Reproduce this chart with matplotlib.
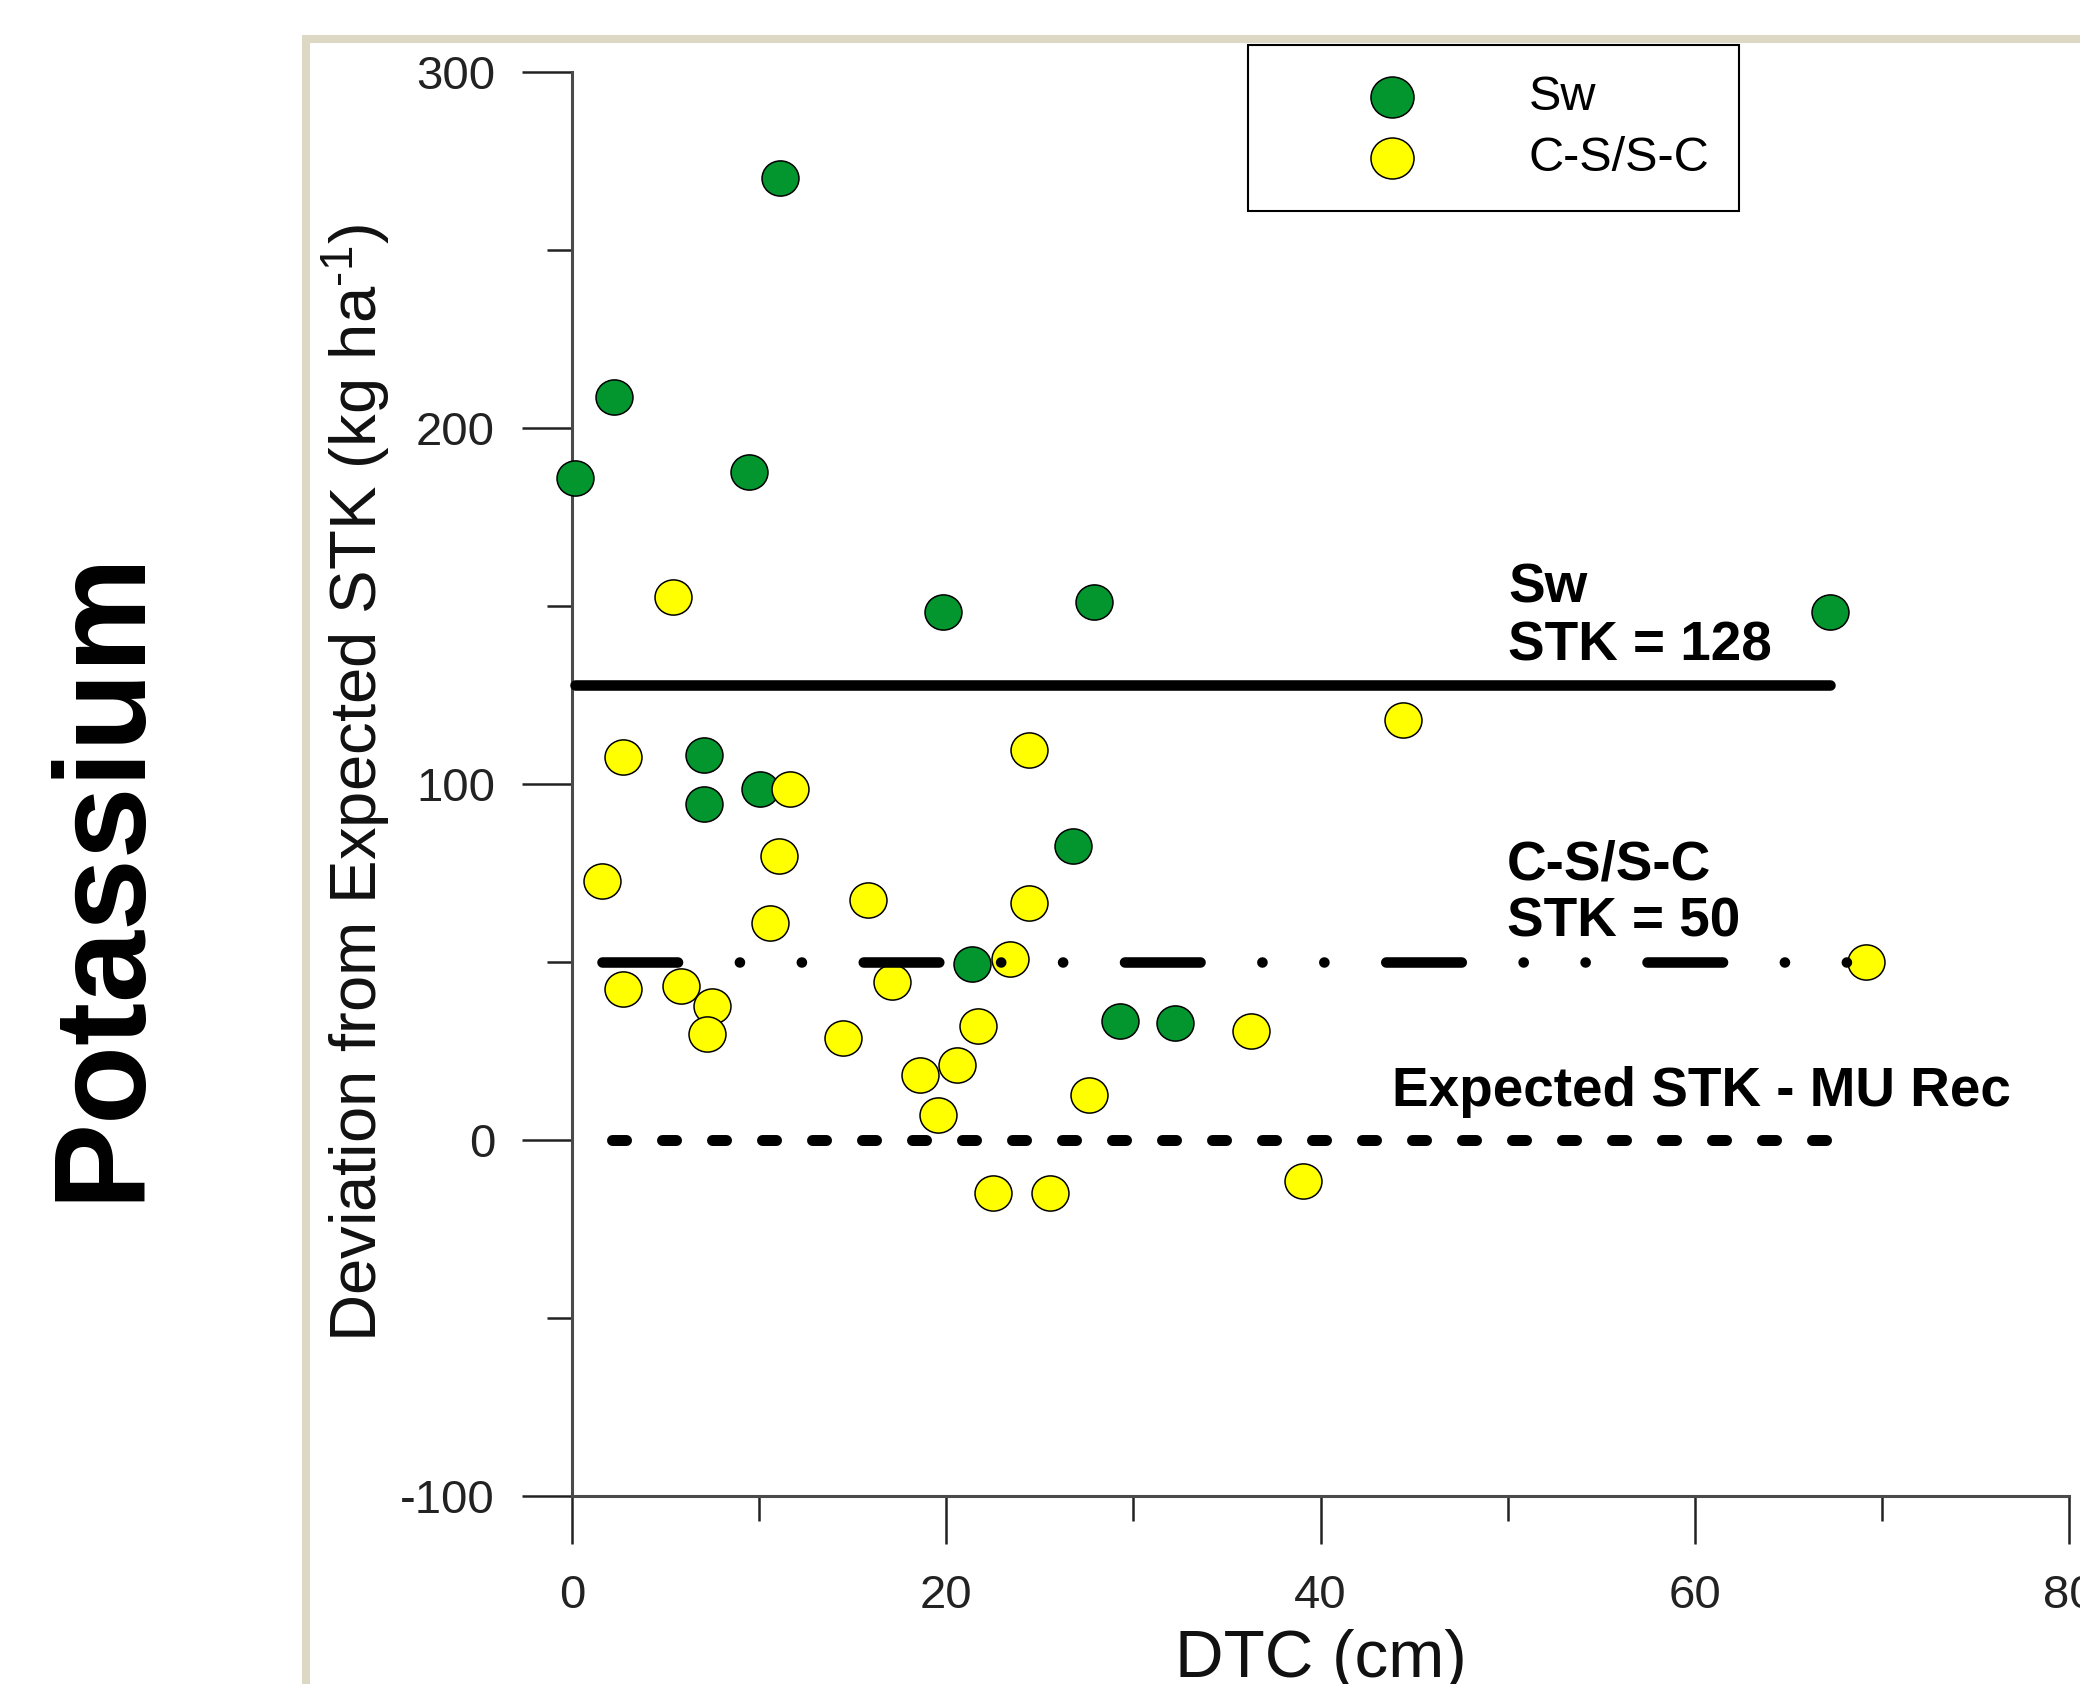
import matplotlib
matplotlib.use('Agg')
import matplotlib.pyplot as plt
from matplotlib.path import Path
from matplotlib.patches import Rectangle

plt.rcParams['font.family'] = ['Liberation Sans', 'DejaVu Sans']
plt.rcParams['axes.unicode_minus'] = False
plt.rcParams['mathtext.fontset'] = 'custom'
plt.rcParams['mathtext.rm'] = 'Liberation Sans'
plt.rcParams['mathtext.default'] = 'regular'
plt.rcParams['lines.scale_dashes'] = False

# Sw (green) points: DTC (cm) vs deviation from expected STK
sw_x = [0.16, 2.24, 11.12, 9.46, 19.84, 27.9, 67.24, 7.06, 7.06, 10.05, 26.8, 21.4, 29.3, 32.2]
sw_y = [186.0, 208.7, 270.2, 187.8, 148.4, 151.1, 148.5, 108.2, 94.5, 98.6, 82.7, 49.4, 33.5, 32.9]

# C-S/S-C (yellow) points
cs_x = [5.41, 2.7, 11.66, 24.4, 44.4, 1.6, 11.07, 10.6, 15.8, 24.4, 2.7, 5.8, 7.5, 7.2,
        17.1, 23.4, 14.5, 21.7, 18.6, 20.56, 19.58, 27.65, 36.3, 22.5, 25.55, 39.05, 69.16]
cs_y = [152.5, 107.6, 98.6, 109.6, 118.0, 72.9, 79.9, 61.1, 67.5, 66.7, 42.4, 43.3, 37.7, 29.8,
        44.6, 50.8, 28.6, 32.1, 18.3, 21.1, 7.1, 12.7, 30.8, -14.9, -14.9, -11.3, 50.2]

# reference levels
sw_stk = 128
cs_stk = 50
exp_level = 0
exp_x = [2.15, 67.3]

labels = ['Sw', 'C-S/S-C']
green = '#03962F'
yellow = '#FFFF00'

# slightly wide ellipse marker (the original is a bit stretched sideways)
circ = Path.unit_circle()
ell = Path(circ.vertices * [1.05, 1.0], circ.codes)

fig = plt.figure(figsize=(20.8, 16.84), dpi=100)
ax = fig.add_axes([572 / 2080, 187.7 / 1684, 1497 / 2080, 1424 / 1684])

ax.scatter(sw_x, sw_y, s=708, marker=ell, facecolor=green, edgecolor='black',
           linewidth=1.1, clip_on=False, zorder=3, label=labels[0])
ax.scatter(cs_x, cs_y, s=708, marker=ell, facecolor=yellow, edgecolor='black',
           linewidth=1.1, clip_on=False, zorder=3, label=labels[1])

ax.plot([min(sw_x), max(sw_x)], [sw_stk, sw_stk], color='black', lw=7.6,
        solid_capstyle='round', clip_on=False, zorder=4)
ax.plot([min(cs_x), max(cs_x)], [cs_stk, cs_stk], color='black', lw=7.6,
        dashes=(54.4, 44.5, 0.1, 44.5, 0.1, 44.5), dash_capstyle='round',
        clip_on=False, zorder=4)
ax.plot(exp_x, [exp_level, exp_level], color='black', lw=7.9,
        dashes=(10.1, 25.9), dash_capstyle='round', clip_on=False, zorder=4)

fs_ann = 39.5
ax.text(50.03, 151.1, 'Sw', fontsize=fs_ann, fontweight='bold', va='baseline')
ax.text(50.03, 134.7, 'STK = 128', fontsize=fs_ann, fontweight='bold', va='baseline')
ax.text(49.95, 73.3, 'C-S/S-C', fontsize=fs_ann, fontweight='bold', va='baseline')
ax.text(49.95, 57.2, 'STK = 50', fontsize=fs_ann, fontweight='bold', va='baseline')
ax.text(43.8, 9.7, 'Expected STK - MU Rec', fontsize=fs_ann, fontweight='bold', va='baseline')

ax.set_xlim(0, 80)
ax.set_ylim(-100, 300)
ax.set_xticks([0, 20, 40, 60, 80])
ax.set_xticks([10, 30, 50, 70], minor=True)
ax.set_yticks([-100, 0, 100, 200, 300])
ax.set_yticks([-50, 50, 150, 250], minor=True)
ax.tick_params(axis='x', which='major', direction='out', length=34.6, width=1.8,
               pad=21, labelsize=34, colors='#222222')
ax.tick_params(axis='x', which='minor', direction='out', length=18, width=1.8, color='#222222')
ax.tick_params(axis='y', which='major', direction='out', length=35.8, width=1.8,
               pad=19.6, labelsize=34, colors='#222222')
ax.tick_params(axis='y', which='minor', direction='out', length=18, width=1.8, color='#222222')
for side in ['top', 'right']:
    ax.spines[side].set_visible(False)
for side in ['left', 'bottom']:
    ax.spines[side].set_linewidth(2.2)
    ax.spines[side].set_color('#4a4a4a')

leg = ax.legend(loc='upper left', bbox_to_anchor=(1248 / 2080, 1 - 45 / 1684),
                bbox_transform=fig.transFigure, borderaxespad=0, fontsize=35,
                markerscale=1.165, scatterpoints=1, borderpad=0.62, handlelength=4.7,
                handletextpad=0.45, labelspacing=0.33, fancybox=False, framealpha=1,
                edgecolor='black')
leg.get_frame().set_linewidth(1.5)

fig.text(356 / 2080, 0.535, r'Deviation from Expected STK (kg ha$^{\text{-1}}$)',
         rotation=90, fontsize=47, ha='center', va='center', color='#111111')
fig.text(1321 / 2080, 7 / 1684, 'DTC (cm)', fontsize=48.5, ha='center', va='baseline',
         color='#111111')
fig.text(104 / 2080, 0.4808, 'Potassium', rotation=90, fontsize=93, fontweight='bold',
         ha='center', va='center')

fig.patches.append(Rectangle((306 / 2080, -0.5), 1.0, 1.5 - 39 / 1684, transform=fig.transFigure,
                             fill=False, edgecolor='#DDD8C3', linewidth=5.8, zorder=0))

fig.savefig('out.png', dpi=100)
